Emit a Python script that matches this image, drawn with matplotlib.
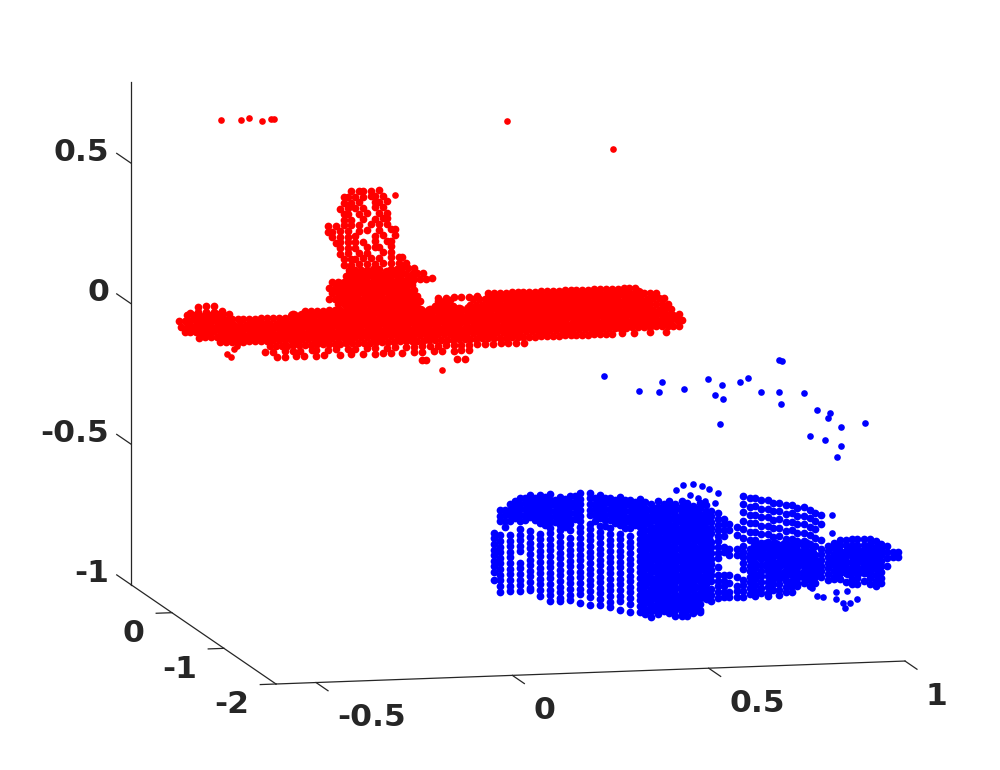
# two point clouds in a 3d box
import matplotlib
matplotlib.use("Agg")
import matplotlib.pyplot as plt
from mpl_toolkits.mplot3d import proj3d

x_lim = (-0.602, 1)
y_lim = (-2, 0.79)
z_lim = (-1, 0.79)
x_ticks = [-0.5, 0, 0.5, 1]
y_ticks = [0, -1, -2]
z_ticks = [0.5, 0, -0.5, -1]
x_tick_labels = ["-0.5", "0", "0.5", "1"]
y_tick_labels = ["0", "-1", "-2"]
z_tick_labels = ["0.5", "0", "-0.5", "-1"]

red_y = 0.79
blue_y = -2

red_z_levels = [.37, .35, .33, .31, .29, .27, .25, .23, .21, .19, .17, .15, .13, .11, .09, .07, .05, .03, .01, -.01, -.02, -.03, -.04, -.05, -.07, -.09, -.11, -.13, -.15, -.17, -.19, -.21, -.24]
red_x_rows = [
    [-.04, -.02, -.01, .01, .03],
    [-.06, -.05, -.03, -.01, .01, .02, .04],
    [-.06, -.04, -.02, .02, .03, .05],
    [-.07, -.05, -.03, -.01, .02, .04],
    [-.06, -.05, -.02, 0, .03, .05],
    [-.06, -.04, -.01, .02, .04, .05],
    [-.10, -.08, -.06, -.04, -.02, .01, .03, .05],
    [-.10, -.09, -.07, -.05, -.02, 0, .03, .06, .07],
    [-.09, -.07, -.05, -.03, .02, .04, .07],
    [-.08, -.07, -.05, -.03, -.01, .02, .05, .06],
    [-.07, -.05, -.03, 0, .02, .03, .06],
    [-.07, -.05, -.02, 0, .04, .06],
    [-.06, -.04, -.03, -.01, .01, .03, .06, .08, .09],
    [-.06, -.04, -.02, 0, .02, .04, .06, .08, .10],
    [-.045, -.03, -.015, 0, .015, .03, .06, .075, .09, .105, .12],
    [-.053, -.038, -.023, -.008, .008, .023, .038, .053, .068, .083, .098, .113, .128, .143],
    [-.09, -.075, -.06, -.045, -.03, -.015, 0, .015, .03, .045, .06, .075, .09, .105, .12, .135, .15, .165],
    [-.098, -.083, -.068, -.053, -.038, -.023, -.008, .008, .023, .038, .053, .068, .083, .098, .113],
    [-.09, -.075, -.06, -.045, -.03, -.015, 0, .015, .03, .045, .06, .075, .09, .105, .12],
    [-.098, -.083, -.068, -.053, -.038, -.023, -.008, .008, .023, .038, .053, .068, .083, .098, .113, .128, .308, .323, .338, .353, .368, .383, .398, .413, .428, .443, .458, .473, .488, .503, .518, .533, .548, .563, .578, .593, .608, .623, .638, .653, .668, .683],
    [-.43, -.41, -.39, .18, .20, .22, .24, .26, .28],
    [-.075, -.06, -.045, -.03, -.015, 0, .015, .03, .045, .06, .075, .09, .105, .12, .135, .18, .195, .21, .27, .285, .30, .315, .33, .345, .36, .375, .39, .405, .42, .435, .45, .465, .48, .495, .51, .525, .54, .555, .57, .585, .60, .615, .63, .645, .66, .675, .69, .705, .72, .735],
    [-.45, -.43, -.41, -.39, -.37],
    [-.458, -.443, -.428, -.413, -.398, -.383, -.368, -.353, -.158, -.143, -.128, -.113, -.098, -.083, -.068, -.053, -.038, -.023, -.008, .008, .023, .038, .053, .068, .083, .098, .113, .128, .173, .188, .203, .218, .263, .278, .293, .308, .323, .338, .353, .368, .383, .398, .413, .428, .443, .458, .473, .488, .503, .518, .533, .548, .563, .578, .593, .608, .623, .638, .653, .668, .683, .698, .713, .728, .743, .755],
    [-.48, -.465, -.45, -.435, -.42, -.405, -.39, -.375, -.36, -.345, -.33, -.315, -.30, -.285, -.27, -.255, -.24, -.225, -.21, -.195, -.18, -.165, -.15, -.135, -.12, -.105, -.09, -.075, -.06, -.045, -.03, -.015, 0, .015, .03, .045, .06, .075, .09, .105, .12, .135, .15, .165, .18, .195, .21, .225, .24, .255, .27, .285, .30, .315, .33, .345, .36, .375, .39, .405, .42, .435, .45, .465, .48, .495, .51, .525, .54, .555, .57, .585, .60, .615, .63, .645, .66, .675, .69, .705, .72, .735, .75, .765],
    [-.473, -.458, -.443, -.428, -.413, -.398, -.383, -.368, -.353, -.338, -.323, -.308, -.293, -.278, -.263, -.248, -.233, -.218, -.203, -.188, -.173, -.158, -.143, -.128, -.113, -.098, -.083, -.068, -.053, -.038, -.023, -.008, .008, .023, .038, .053, .068, .083, .098, .113, .128, .143, .158, .173, .188, .203, .218, .233, .248, .263, .278, .293, .308, .323, .338, .353, .368, .383, .398, .413, .428, .443, .458, .473, .488, .503, .518, .533, .548, .563, .578, .593, .608, .623, .638, .653, .668, .683, .698, .713, .728, .743, .758, .773],
    [-.465, -.45, -.435, -.42, -.405, -.39, -.375, -.36, -.345, -.33, -.315, -.30, -.285, -.27, -.255, -.24, -.225, -.21, -.195, -.18, -.165, -.15, -.135, -.12, -.105, -.09, -.075, -.06, -.045, -.03, -.015, 0, .015, .03, .045, .06, .075, .09, .105, .12, .135, .15, .165, .18, .195, .21, .225, .24, .255, .27, .285, .30, .315, .33, .345, .36, .375, .39, .405, .42, .435, .45, .465, .48, .495, .51, .525, .54, .555, .57, .585, .60, .615, .63, .645, .66, .675, .69, .705, .72, .735, .75, .765, .78, .795],
    [-.428, -.413, -.398, -.383, -.368, -.353, -.338, -.323, -.308, -.293, -.278, -.263, -.248, -.233, -.218, -.203, -.188, -.173, -.158, -.143, -.128, -.113, -.098, -.083, -.068, -.053, -.038, -.023, -.008, .008, .023, .038, .053, .068, .083, .098, .113, .128, .143, .158, .173, .188, .203, .218, .233, .248, .263, .278, .293, .308, .323, .338, .353, .368, .383, .398, .413, .428, .443, .458, .473, .488, .503, .518, .533, .548, .563, .578, .593, .608, .623, .638, .653, .668, .683, .698, .713, .728, .743, .758, .773, .788, .803],
    [-.375, -.36, -.345, -.33, -.315, -.30, -.285, -.27, -.255, -.24, -.225, -.21, -.195, -.18, -.165, -.15, -.135, -.12, -.105, -.09, -.075, -.06, -.045, -.03, -.015, 0, .015, .03, .045, .06, .075, .09, .105, .12, .135, .15, .165, .18, .195, .21, .225, .24, .255, .27, .285, .30, .315, .33, .345, .36, .375, .39, .405, .42, .435, .45, .465, .48, .495, .51, .525, .54, .555, .57, .585, .60, .615, .63, .645, .66, .675, .69, .705, .72, .735, .75, .765, .78, .795],
    [-.248, -.233, -.218, -.203, -.188, -.173, -.158, -.143, -.128, -.113, -.098, -.083, -.068, -.053, -.038, -.023, -.008, .008, .023, .038, .053, .068, .083, .098, .113, .128, .143, .158, .173, .188, .203, .218, .233, .248, .263, .278, .293, .308, .323, .338, .353, .368, .383, .398, .413, .428, .443, .458, .473, .488, .503, .518, .533, .548, .563, .578, .593, .608, .623, .65, .68, .72, .76],
    [-.26, -.24, -.21, -.19, -.17, -.14, -.13, -.10, -.08, -.05, -.03, 0, .02, .05, .07, .10, .12, .14, .16, .18, .20, .22, .24, .26, .28, .30, .32, .34, .36, .38, .40],
    [-.23, -.21, -.18, -.16, -.13, -.11, -.07, -.04, -.01, .02, .04, .06, .09, .12, .14, .17, .19, .22, .24, .26],
    [.14, .15, .23, .25],
]

# isolated points and the small pod under the nose
red_extra_x = [-.372, -.321, -.300, -.267, -.244, -.237, .356, .626, .071, .191, -.346, -.338, -.356, -.331]
red_extra_z = [.640, .638, .644, .631, .637, .637, .599, .486, .350, -.276, -.202, -.176, -.191, -.166]

# the solid middle of the plane, too packed to tell single points apart
red_core_z_levels = [.075, .04, .005, -.03, -.065, -.10, -.135]
red_core_x_rows = [
    [-.04, -.01, .02, .05, .08],
    [-.07, -.04, -.01, .02, .05, .08, .11],
    [-.06, -.03, 0, .03, .06, .09],
    [-.05, -.02, .01, .04, .07, .10, .31, .335, .36, .385, .41, .435, .46, .485, .51, .535, .56, .585, .61, .635, .66, .69],
    [-.43, -.40, -.375, -.19, -.165, -.14, -.115, -.09, -.065, -.04, -.015, .01, .035, .06, .085, .11, .135, .16, .185, .21, .235, .26, .285, .31, .335, .36, .385, .41, .435, .46, .485, .51, .535, .56, .585, .61, .635, .66, .685, .71],
    [-.45, -.425, -.40, -.375, -.35, -.325, -.30, -.275, -.25, -.225, -.20, -.175, -.15, -.125, -.10, -.075, -.05, -.025, 0, .025, .05, .075, .10, .125, .15, .175, .20, .225, .25, .275, .30, .325, .35, .375, .40, .425, .45, .475, .50, .525, .55, .575, .60, .625, .65, .675, .70, .725, .75],
    [-.37, -.345, -.32, -.295, -.27, -.245, -.22, -.195, -.17, -.145, -.12, -.095, -.07, -.045, -.02, .005, .03, .055, .08, .105, .13, .155, .18, .205, .23, .255, .28, .305, .33, .355, .38, .405, .43, .455, .48, .505, .53, .555, .58, .605, .63, .655, .68, .705, .73, .755],
]

blue_x_levels = [
    -.047, -.032, -.007, .019, .044, .070, .095, .121, .146, .172, .197, .223, .248, .273, .299, .324,
    -.019, .006, .032, .057, .082, .108, .133, .159, .210, .235, .261, .286, .312,
    .339, .354, .370, .385, .400, .415, .431, .446, .461, .477,
    .492, .507, .523, .538, .553, .573,
    .588, .604, .619, .634, .650, .665, .680, .696, .711, .726, .742, .757, .772, .787,
    .803, .818, .834, .849, .864, .879, .895, .910, .925, .940, .955, .970, .981,
]
blue_z_cols = [
    [-.49, -.51, -.53, -.55, -.57, -.59, -.61, -.63, -.66],
    [-.41, -.43, -.45, -.50, -.52, -.54, -.56, -.58, -.60, -.62, -.64, -.66, -.68, -.70],
    [-.39, -.41, -.43, -.45, -.50, -.52, -.54, -.56, -.58, -.60, -.62, -.64, -.66, -.68, -.70],
    [-.37, -.39, -.41, -.43, -.45, -.48, -.50, -.52, -.54, -.56, -.60, -.62, -.64, -.66, -.68, -.70],
    [-.36, -.38, -.40, -.42, -.44, -.49, -.51, -.53, -.55, -.57, -.59, -.61, -.63, -.65, -.67, -.69, -.70],
    [-.36, -.38, -.40, -.42, -.44, -.46, -.50, -.52, -.54, -.56, -.58, -.60, -.62, -.64, -.66, -.68, -.70, -.72],
    [-.36, -.38, -.40, -.42, -.44, -.46, -.48, -.50, -.52, -.54, -.56, -.58, -.60, -.62, -.64, -.66, -.68, -.70, -.72, -.74],
    [-.37, -.39, -.41, -.43, -.45, -.47, -.49, -.51, -.53, -.55, -.57, -.59, -.61, -.63, -.65, -.67, -.69, -.71, -.73, -.74],
    [-.37, -.39, -.41, -.43, -.45, -.47, -.49, -.52, -.54, -.56, -.58, -.60, -.62, -.64, -.66, -.68, -.70, -.72, -.74],
    [-.36, -.38, -.40, -.42, -.44, -.46, -.48, -.50, -.52, -.54, -.56, -.58, -.60, -.62, -.64, -.66, -.68, -.70, -.72, -.75],
    [-.36, -.38, -.40, -.42, -.44, -.47, -.49, -.51, -.53, -.55, -.57, -.59, -.61, -.63, -.65, -.67, -.69, -.71, -.73, -.76],
    [-.37, -.39, -.41, -.43, -.45, -.48, -.50, -.52, -.54, -.56, -.58, -.60, -.62, -.64, -.66, -.68, -.70, -.72, -.74, -.76],
    [-.38, -.40, -.42, -.44, -.46, -.49, -.51, -.53, -.55, -.57, -.59, -.61, -.63, -.65, -.67, -.69, -.71, -.73, -.75, -.77],
    [-.38, -.40, -.42, -.44, -.46, -.48, -.51, -.53, -.55, -.57, -.59, -.61, -.63, -.65, -.67, -.69, -.71, -.73, -.75, -.78],
    [-.39, -.41, -.43, -.45, -.47, -.49, -.52, -.54, -.56, -.58, -.60, -.62, -.64, -.66, -.68, -.70, -.72, -.74, -.76, -.79],
    [-.39, -.41, -.43, -.45, -.47, -.49, -.51, -.53, -.55, -.57, -.59, -.61, -.63, -.65, -.67, -.69, -.71, -.73, -.75, -.77, -.79],
    [-.41, -.43, -.45, -.47],
    [-.38, -.40, -.42, -.44],
    [-.37, -.39, -.41, -.43, -.45],
    [-.37, -.39, -.41, -.43, -.45],
    [-.37, -.39, -.41, -.43, -.45, -.47],
    [-.38, -.40, -.42, -.44, -.46],
    [-.38, -.40, -.42, -.44, -.46, -.48],
    [-.37, -.39, -.41, -.43, -.45],
    [-.38, -.40, -.42, -.44, -.46],
    [-.38, -.40, -.42, -.44, -.46, -.48],
    [-.39, -.41, -.43, -.45, -.47],
    [-.39, -.41, -.43, -.45, -.47, -.49],
    [-.40, -.42, -.44, -.46, -.48],
    [-.40, -.42, -.44, -.46, -.48, -.50, -.52, -.54, -.56, -.58, -.60, -.62, -.64, -.66, -.68, -.70, -.72, -.74, -.76, -.78, -.80],
    [-.41, -.43, -.45, -.47, -.49, -.51, -.53, -.55, -.57, -.59, -.61, -.63, -.65, -.67, -.69, -.71, -.73, -.75, -.77, -.79, -.81],
    [-.40, -.42, -.44, -.46, -.48, -.50, -.52, -.54, -.56, -.58, -.60, -.62, -.64, -.66, -.68, -.70, -.72, -.74, -.76, -.78, -.80],
    [-.41, -.43, -.45, -.47, -.49, -.51, -.53, -.55, -.57, -.59, -.61, -.63, -.65, -.67, -.69, -.71, -.73, -.75, -.77, -.79],
    [-.40, -.42, -.44, -.46, -.48, -.50, -.52, -.54, -.56, -.58, -.60, -.62, -.64, -.66, -.68, -.70, -.72, -.74, -.76, -.78, -.80],
    [-.41, -.43, -.45, -.47, -.49, -.51, -.53, -.55, -.57, -.59, -.61, -.63, -.65, -.67, -.69, -.71, -.73, -.75, -.77, -.79, -.81],
    [-.40, -.42, -.44, -.46, -.48, -.50, -.52, -.54, -.56, -.58, -.60, -.62, -.64, -.66, -.68, -.70, -.72, -.74, -.76, -.78, -.80, -.81],
    [-.41, -.43, -.45, -.47, -.49, -.51, -.53, -.55, -.57, -.59, -.61, -.63, -.65, -.67, -.69, -.71, -.73, -.75, -.77, -.79, -.81],
    [-.42, -.44, -.46, -.48, -.50, -.52, -.54, -.56, -.58, -.60, -.62, -.64, -.66, -.68, -.70, -.72, -.74, -.76, -.78, -.80],
    [-.41, -.43, -.45, -.47, -.49, -.51, -.53, -.55, -.57, -.59, -.61, -.63, -.65, -.67, -.69, -.71, -.73, -.75, -.77, -.79, -.80],
    [-.42, -.44, -.46, -.48, -.50, -.52, -.54, -.56, -.58, -.60, -.62, -.64, -.66, -.68, -.70, -.72, -.75],
    [-.44, -.46, -.48, -.50, -.52, -.55, -.57, -.59, -.61, -.63, -.65, -.67, -.69, -.72, -.74, -.76],
    [-.45, -.47, -.49, -.51, -.53, -.55, -.57, -.59, -.61, -.64, -.67, -.69, -.71, -.73, -.75],
    [-.47, -.49, -.51, -.53, -.57, -.59, -.67, -.69, -.71, -.73, -.75],
    [-.49, -.51, -.58, -.60, -.67, -.70, -.73, -.75],
    [-.50, -.53, -.58, -.60, -.68, -.71, -.73, -.75],
    [-.39, -.42, -.45, -.48, -.51, -.54, -.57, -.59, -.61, -.63, -.65, -.69, -.71, -.73, -.75],
    [-.40, -.43, -.46, -.49, -.52, -.55, -.58, -.60, -.62, -.64, -.66, -.68, -.70, -.72, -.74],
    [-.40, -.43, -.46, -.49, -.52, -.55, -.57, -.59, -.61, -.63, -.65, -.67, -.69, -.71, -.73, -.75],
    [-.41, -.44, -.47, -.50, -.53, -.56, -.58, -.60, -.62, -.64, -.66, -.68, -.70, -.72, -.74],
    [-.41, -.44, -.47, -.50, -.53, -.56, -.58, -.60, -.62, -.64, -.66, -.68, -.70, -.72, -.74, -.75],
    [-.42, -.45, -.48, -.51, -.54, -.57, -.59, -.61, -.63, -.65, -.67, -.69, -.71, -.73],
    [-.42, -.45, -.48, -.51, -.54, -.57, -.59, -.61, -.63, -.65, -.67, -.69, -.71, -.73, -.75],
    [-.43, -.46, -.49, -.52, -.55, -.58, -.60, -.62, -.64, -.66, -.68, -.70, -.72, -.74],
    [-.43, -.46, -.49, -.52, -.55, -.58, -.60, -.62, -.64, -.66, -.68, -.70, -.72, -.74],
    [-.44, -.47, -.50, -.53, -.56, -.59, -.61, -.63, -.65, -.67, -.69, -.71, -.72],
    [-.44, -.47, -.50, -.53, -.56, -.59, -.61, -.63, -.65, -.67, -.69, -.71],
    [-.45, -.48, -.51, -.54, -.57, -.62, -.64, -.66, -.68, -.70, -.72],
    [-.46, -.49, -.52, -.55, -.58, -.61, -.63, -.65, -.67, -.69, -.71],
    [-.47, -.50, -.56, -.59, -.61, -.63, -.65, -.67, -.69],
    [-.58, -.60, -.62, -.64, -.66, -.68, -.70],
    [-.57, -.59, -.61, -.63, -.65, -.67, -.69, -.70],
    [-.56, -.58, -.60, -.62, -.64, -.66, -.68, -.70],
    [-.56, -.58, -.60, -.62, -.64, -.66, -.68, -.71],
    [-.56, -.58, -.60, -.62, -.64, -.66, -.68, -.70, -.72],
    [-.56, -.58, -.60, -.62, -.64, -.66, -.68, -.70, -.72],
    [-.56, -.58, -.60, -.62, -.64, -.66, -.68, -.71],
    [-.56, -.58, -.60, -.62, -.64, -.66, -.68, -.70, -.72],
    [-.57, -.59, -.61, -.63, -.65, -.67, -.69, -.71, -.73],
    [-.58, -.60, -.62, -.64, -.66, -.68, -.70, -.72],
    [-.59, -.61, -.63, -.66],
    [-.61, -.63],
    [-.61, -.63],
]

# the scattered points above the car and the few below its tail
blue_extra_x = [.233, .322, .373, .380, .436, .497, .515, .536, .533, .528, .581, .599, .632, .678, .688, .680, .683, .744, .775, .808, .803, .836, .899, .757, .795, .836, .828,
                .418, .434, .459, .482, .502, .523, .515, .452, .472, .490, .813, .813,
                .825, .853, .879, .825, .841, .859, .848, .790, .777, .762]
blue_extra_z = [.053, -.005, -.011, .024, -.004, .029, -.029, -.044, .006, -.133, .014, .027, -.024, .087, .083, -.027, -.069, -.033, -.096, -.108, -.126, -.159, -.148, -.187, -.203, -.227, -.266,
                -.363, -.345, -.343, -.352, -.364, -.379, -.414, -.382, -.394, -.403, -.472, -.536,
                -.747, -.745, -.772, -.772, -.787, -.788, -.805, -.763, -.756, -.729]

# the packed parts of the car, same idea as the plane
blue_core_z_levels = [-.43, -.465, -.50, -.535, -.57, -.605, -.64, -.675, -.71, -.745, -.78]
blue_core_x_rows = [
    [.36, .385, .41, .435, .46],
    [.345, .37, .395, .42, .445, .47, .495],
    [.36, .385, .41, .435, .46, .485],
    [.345, .37, .395, .42, .445, .47, .495],
    [.36, .385, .41, .435, .46, .485, .62, .645, .67, .695, .72, .745],
    [.345, .37, .395, .42, .445, .47, .495, .61, .635, .66, .685, .71, .735, .76, .83, .855, .88, .905, .93],
    [.36, .385, .41, .435, .46, .485, .65, .675, .70, .725, .75, .775, .82, .845, .87, .895, .92],
    [.345, .37, .395, .42, .445, .47, .495, .67, .695, .72, .745, .77, .83, .855, .88, .905],
    [.36, .385, .41, .435, .46, .485, .71],
    [.345, .37, .395, .42, .445, .47, .495],
    [.36, .385, .41, .435, .46],
]

red_x = []
red_z = []
for z, row in zip(red_z_levels, red_x_rows):
    red_x += row
    red_z += [z] * len(row)

blue_x = []
blue_z = []
for x, col in zip(blue_x_levels, blue_z_cols):
    blue_x += [x] * len(col)
    blue_z += col

red_core_x = []
red_core_z = []
for z, row in zip(red_core_z_levels, red_core_x_rows):
    red_core_x += row
    red_core_z += [z] * len(row)

blue_core_x = []
blue_core_z = []
for z, row in zip(blue_core_z_levels, blue_core_x_rows):
    blue_core_x += row
    blue_core_z += [z] * len(row)

ink = "#262626"
box = (645, 645, 509)

fig = plt.figure(figsize=(10, 7.7), dpi=100)
ax = fig.add_axes([0, 0, 1, 1], projection="3d", proj_type="ortho")
ax.view_init(elev=9.1, azim=-103)
ax.set_xlim(*x_lim)
ax.set_ylim(*y_lim)
ax.set_zlim(*z_lim)
ax.set_box_aspect(box)
ax.set_axis_off()


def dots(xs, y, zs, size, color):
    ax.scatter(xs, [y] * len(xs), zs, s=size, c=color, linewidths=0, depthshade=False, clip_on=False)


dots(red_x, red_y, red_z, 31, "#ff0000")
dots(red_extra_x, red_y, red_extra_z, 23, "#ff0000")
dots(red_core_x, red_y, red_core_z, 72, "#ff0000")
dots(blue_x, blue_y, blue_z, 31, "#0000ff")
dots(blue_extra_x, blue_y, blue_extra_z, 23, "#0000ff")
dots(blue_core_x, blue_y, blue_core_z, 72, "#0000ff")


def line(xs, ys, zs):
    ax.plot(xs, ys, zs, color=ink, lw=0.9, clip_on=False)


# axis lines and ticks are drawn by hand, mplot3d would put them on other edges
line([x_lim[0], x_lim[0]], [y_lim[1], y_lim[1]], z_lim)
line([x_lim[0], x_lim[0]], y_lim, [z_lim[0], z_lim[0]])
line(x_lim, [y_lim[0], y_lim[0]], [z_lim[0], z_lim[0]])

font = dict(color=ink, fontsize=22.6, fontweight="bold", family="DejaVu Sans", va="center")
for t, lab in zip(z_ticks, z_tick_labels):
    line([x_lim[0], x_lim[0]], [y_lim[1], y_lim[1] + 0.27], [t, t])
    ax.text(x_lim[0], y_lim[1] + 0.41, t - 0.014, lab, ha="right", **font)
for t, lab in zip(y_ticks, y_tick_labels):
    line([x_lim[0], x_lim[0] - 0.04], [t, t], [z_lim[0], z_lim[0]])
    ax.text(x_lim[0] - 0.069, t, z_lim[0] - 0.071, lab, ha="right", **font)
for t, lab in zip(x_ticks, x_tick_labels):
    line([t, t], [y_lim[0], y_lim[0] - 0.23], [z_lim[0], z_lim[0]])
    ax.text(t, y_lim[0] - 0.40, z_lim[0] - 0.074, lab, ha="left", **font)


def to_px(x, y, z):
    xs, ys, _ = proj3d.proj_transform(x, y, z, ax.get_proj())
    return ax.transData.transform((xs, ys))


# scale and move the box so its front corner and x axis sit where they do in the picture
fig.canvas.draw()
span = to_px(x_lim[1], y_lim[0], z_lim[0])[0] - to_px(x_lim[0], y_lim[0], z_lim[0])[0]
ax.set_box_aspect(box, zoom=629 / span)
fig.canvas.draw()
corner = to_px(x_lim[0], y_lim[0], z_lim[0])
pos = ax.get_position()
ax.set_position([pos.x0 + (276 - corner[0]) / 1000, pos.y0 + (86 - corner[1]) / 770, pos.width, pos.height])

fig.savefig("out.png", dpi=100)
